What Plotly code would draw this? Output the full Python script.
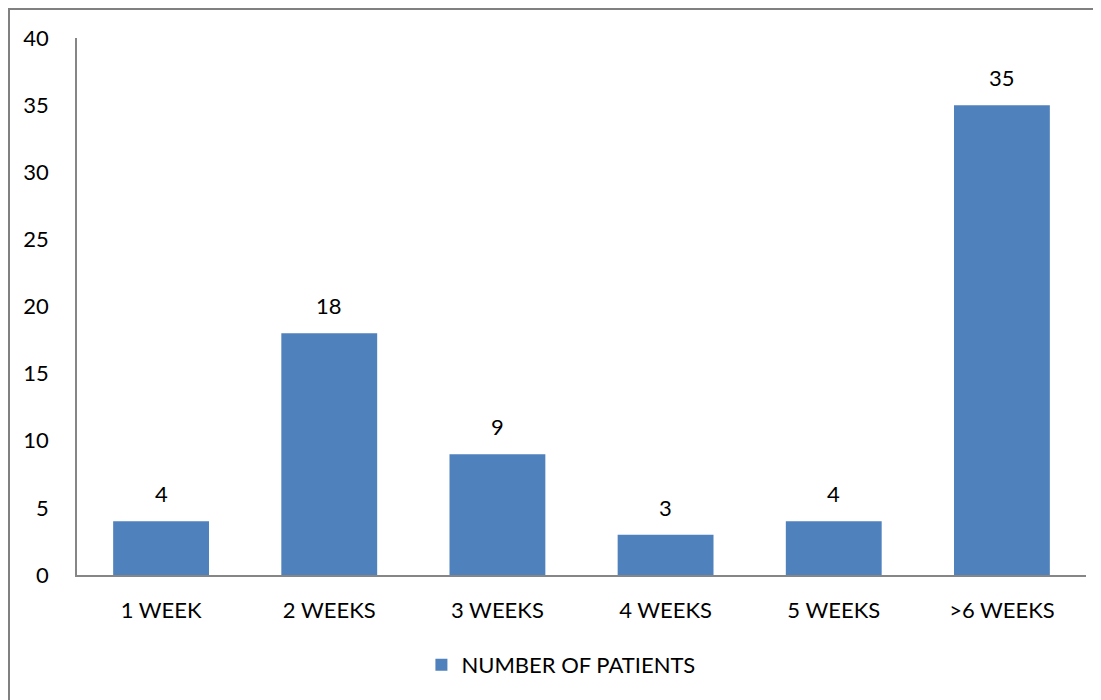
import plotly.graph_objects as go

categories = ["1 WEEK", "2 WEEKS", "3 WEEKS", "4 WEEKS", "5 WEEKS", ">6 WEEKS"]
patients = [4, 18, 9, 3, 4, 35]
y_ticks = [0, 5, 10, 15, 20, 25, 30, 35, 40]
series_name = "NUMBER OF PATIENTS"

FONT = "Lato, Calibri, Carlito, sans-serif"
FS = 22
BAR = "#4F81BD"
AXIS = "#868686"

fig = go.Figure()
fig.add_trace(go.Bar(
    x=categories, y=patients, name=series_name,
    marker=dict(color=BAR, line=dict(width=0)),
))

for c, v in zip(categories, patients):
    fig.add_annotation(x=c, y=v, text=str(v), showarrow=False,
                       yanchor="bottom", yshift=12,
                       font=dict(family=FONT, size=FS, color="black"))

fig.update_layout(
    width=1093, height=692,
    margin=dict(l=69, r=15, t=30, b=125),
    paper_bgcolor="white", plot_bgcolor="white",
    bargap=0.43,
    font=dict(family=FONT, size=FS, color="black"),
    showlegend=True,
    legend=dict(orientation="h", x=0.4796, y=-0.1676, xanchor="center", yanchor="middle",
                font=dict(family=FONT, size=FS, color="black"),
                itemwidth=30, tracegroupgap=0),
    xaxis=dict(showline=True, linecolor=AXIS, linewidth=1.5, showgrid=False,
               ticks="", ticklabelstandoff=15, zeroline=False),
    yaxis=dict(range=[0, 40], tickvals=y_ticks, showline=True, linecolor=AXIS, linewidth=1.5,
               showgrid=False, ticks="", ticklabelstandoff=22, zeroline=False),
    shapes=[dict(type="rect", xref="paper", yref="paper",
                 x0=-0.0674, x1=1.04, y0=-0.3, y1=1.054,
                 line=dict(color="#808080", width=2), layer="above")],
)

fig.write_html("out.html")
